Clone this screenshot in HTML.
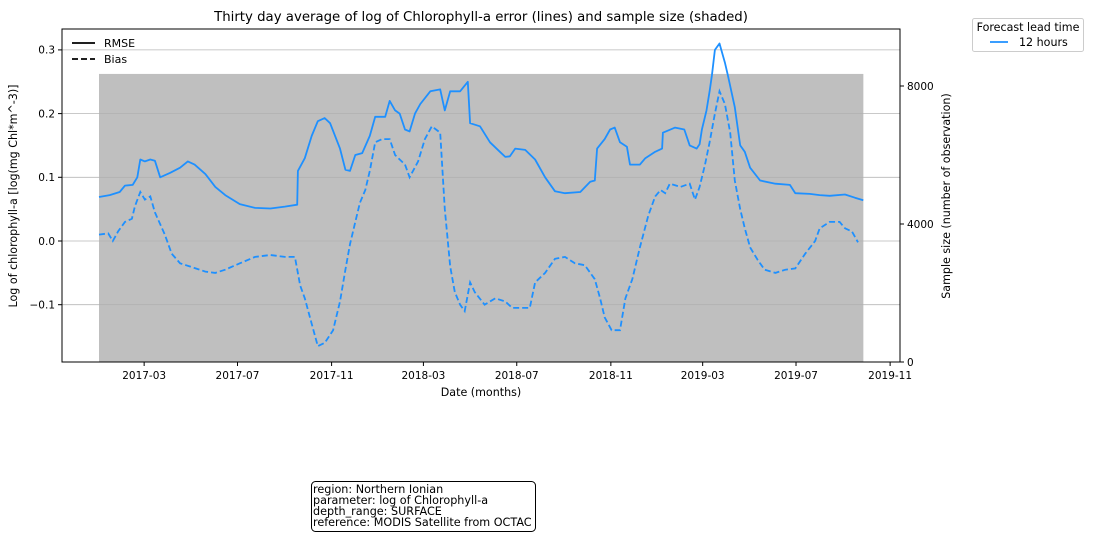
<!DOCTYPE html>
<html><head><meta charset="utf-8">
<style>
body{margin:0;background:#fff;}
svg text{font-family:"DejaVu Sans","Liberation Sans",sans-serif;}
</style></head>
<body>
<svg id="chart" width="1094" height="540" xmlns="http://www.w3.org/2000/svg"></svg>
<script>
// data: days since 2017-01-01
const rmseDays=[0,14,27,34,44,50,54,60,67,73,80,93,106,116,125,139,152,165,184,204,224,243,259,260,269,278,286,295,302,315,322,328,335,344,354,361,374,380,387,393,400,406,413,420,433,446,452,459,472,482,485,498,511,524,531,537,544,557,570,583,596,609,629,642,648,651,661,668,674,681,690,694,707,714,727,736,737,753,765,772,781,785,788,794,798,801,805,811,818,822,831,838,844,851,864,884,903,910,929,942,955,975,988,999];
const rmseVals=[0.069,0.072,0.077,0.087,0.088,0.100,0.128,0.125,0.128,0.126,0.100,0.107,0.115,0.125,0.120,0.105,0.085,0.072,0.058,0.052,0.051,0.054,0.057,0.110,0.130,0.165,0.188,0.193,0.185,0.145,0.112,0.110,0.135,0.138,0.165,0.195,0.195,0.220,0.205,0.200,0.175,0.172,0.200,0.215,0.235,0.238,0.205,0.235,0.235,0.250,0.185,0.180,0.155,0.140,0.132,0.133,0.145,0.143,0.128,0.100,0.078,0.075,0.077,0.093,0.095,0.145,0.160,0.175,0.178,0.155,0.148,0.120,0.120,0.130,0.140,0.145,0.170,0.178,0.175,0.150,0.145,0.152,0.175,0.205,0.235,0.260,0.300,0.310,0.280,0.260,0.210,0.150,0.140,0.115,0.095,0.090,0.088,0.075,0.074,0.072,0.071,0.073,0.068,0.064];
const biasDays=[0,12,18,25,34,43,47,54,60,67,73,86,95,106,119,139,152,165,184,204,224,243,256,263,269,278,286,295,306,315,322,328,335,341,348,354,361,370,380,387,400,406,417,426,435,446,452,459,465,472,478,485,491,504,518,531,540,563,570,583,596,609,622,635,648,655,661,670,681,688,697,707,718,727,734,740,746,760,772,779,785,792,798,805,811,818,825,831,838,844,851,861,870,884,897,910,923,936,942,955,968,975,984,992];
const biasVals=[0.010,0.012,0.000,0.015,0.030,0.035,0.055,0.077,0.065,0.070,0.045,0.010,-0.020,-0.035,-0.040,-0.048,-0.050,-0.045,-0.035,-0.025,-0.022,-0.025,-0.025,-0.070,-0.090,-0.130,-0.165,-0.160,-0.140,-0.095,-0.045,-0.005,0.030,0.060,0.080,0.110,0.155,0.160,0.160,0.135,0.120,0.100,0.125,0.160,0.180,0.170,0.050,-0.040,-0.080,-0.100,-0.110,-0.065,-0.080,-0.100,-0.090,-0.095,-0.105,-0.105,-0.065,-0.050,-0.028,-0.025,-0.035,-0.038,-0.060,-0.090,-0.120,-0.140,-0.140,-0.090,-0.060,-0.010,0.040,0.070,0.080,0.075,0.090,0.085,0.090,0.065,0.085,0.120,0.155,0.200,0.235,0.215,0.170,0.095,0.050,0.020,-0.010,-0.030,-0.045,-0.050,-0.045,-0.043,-0.020,0.000,0.020,0.030,0.030,0.020,0.015,-0.002];
const sampleStart=[0];
const sampleEnd=[999];
const sampleSize=[8350];
const xTickDays=[59,181,304,424,546,669,789,911,1034];
const xTickLabels=["2017-03","2017-07","2017-11","2018-03","2018-07","2018-11","2019-03","2019-07","2019-11"];
const yTicks=[-0.1,0.0,0.1,0.2,0.3];
const yTickLabels=["−0.1","0.0","0.1","0.2","0.3"];
const y2Ticks=[0,4000,8000];

const L=62,R=900,T=29,B=362;
const xS=d=>99+d/1.307;
const yS=v=>241-v*637;
const y2S=v=>362-v*138/4000;
const NS="http://www.w3.org/2000/svg";
const svg=document.getElementById('chart');
function mk(tag,attrs,parent){const e=document.createElementNS(NS,tag);for(const k in attrs)e.setAttribute(k,attrs[k]);(parent||svg).appendChild(e);return e;}
function txt(s,attrs,parent){const e=mk('text',attrs,parent);e.textContent=s;return e;}

sampleSize.forEach((s,i)=>{
  const r=mk('rect',{x:xS(sampleStart[i]),y:y2S(s),width:xS(sampleEnd[i])-xS(sampleStart[i]),height:y2S(0)-y2S(s),fill:'#bfbfbf'});
  
  
});
yTicks.forEach(v=>{
  const g=mk('line',{x1:L,x2:R,y1:yS(v),y2:yS(v),stroke:'#b0b0b0','stroke-width':0.8,opacity:0.9});
  
  
});
function pts(ds,vs){return ds.map((d,i)=>xS(d).toFixed(1)+','+yS(vs[i]).toFixed(1)).join(' ');}
const rl=mk('polyline',{points:pts(rmseDays,rmseVals),fill:'none',stroke:'#1e90ff','stroke-width':1.8,'stroke-linejoin':'round'});


const bl=mk('polyline',{points:pts(biasDays,biasVals),fill:'none',stroke:'#1e90ff','stroke-width':1.8,'stroke-dasharray':'6,3'});


const fr=mk('rect',{x:L,y:T,width:R-L,height:B-T,fill:'none',stroke:'#000','stroke-width':1});


xTickDays.forEach((d,i)=>{
  mk('line',{x1:xS(d),x2:xS(d),y1:B,y2:B+4,stroke:'#000'});
  const t=txt(xTickLabels[i],{x:xS(d),y:B+17,'font-size':10.5,'text-anchor':'middle'});
  
  
});
yTicks.forEach((v,i)=>{
  mk('line',{x1:L-4,x2:L,y1:yS(v),y2:yS(v),stroke:'#000'});
  const t=txt(yTickLabels[i],{x:L-7,y:yS(v)+3.8,'font-size':10.5,'text-anchor':'end'});
  
  
});
y2Ticks.forEach(v=>{
  mk('line',{x1:R,x2:R+4,y1:y2S(v),y2:y2S(v),stroke:'#000'});
  const t=txt(String(v),{x:R+7,y:y2S(v)+3.8,'font-size':10.5});
  
  
});
</script>
<svg width="1094" height="540" style="position:absolute;left:0;top:0" xmlns="http://www.w3.org/2000/svg">
  <text x="481" y="21" font-size="13.3" text-anchor="middle">Thirty day average of log of Chlorophyll-a error (lines) and sample size (shaded)</text>
  <text x="481" y="396" font-size="11.1" text-anchor="middle">Date (months)</text>
  <text transform="translate(17,196) rotate(-90)" font-size="11.1" text-anchor="middle">Log of chlorophyll-a [log(mg Chl*m^-3)]</text>
  <text transform="translate(950,196) rotate(-90)" font-size="11.1" text-anchor="middle">Sample size (number of observation)</text>
  <g>
    <line x1="72" x2="95" y1="43" y2="43" stroke="#000" stroke-width="1.8"/>
    <text x="104" y="47" font-size="11">RMSE</text>
    <line x1="72" x2="95" y1="59" y2="59" stroke="#000" stroke-width="1.8" stroke-dasharray="6,3"/>
    <text x="104" y="63" font-size="11">Bias</text>
  </g>
  <g>
    <rect x="972.5" y="18.5" width="111" height="33" rx="2" fill="#fff" stroke="#ccc"/>
    <text x="1028" y="31" font-size="11.1" text-anchor="middle">Forecast lead time</text>
    <line x1="990" x2="1008" y1="42" y2="42" stroke="#1e90ff" stroke-width="1.8"/>
    <text x="1019" y="46" font-size="11.1">12 hours</text>
  </g>
  <g>
    <rect x="311.5" y="481.5" width="224" height="50" rx="4" fill="#fff" stroke="#000"/>
    <text x="313" y="493" font-size="11.2">region: Northern Ionian</text>
    <text x="313" y="504" font-size="11.2">parameter: log of Chlorophyll-a</text>
    <text x="313" y="515" font-size="11.2">depth_range: SURFACE</text>
    <text x="313" y="526" font-size="11.2">reference: MODIS Satellite from OCTAC</text>
  </g>
</svg>
</body></html>
